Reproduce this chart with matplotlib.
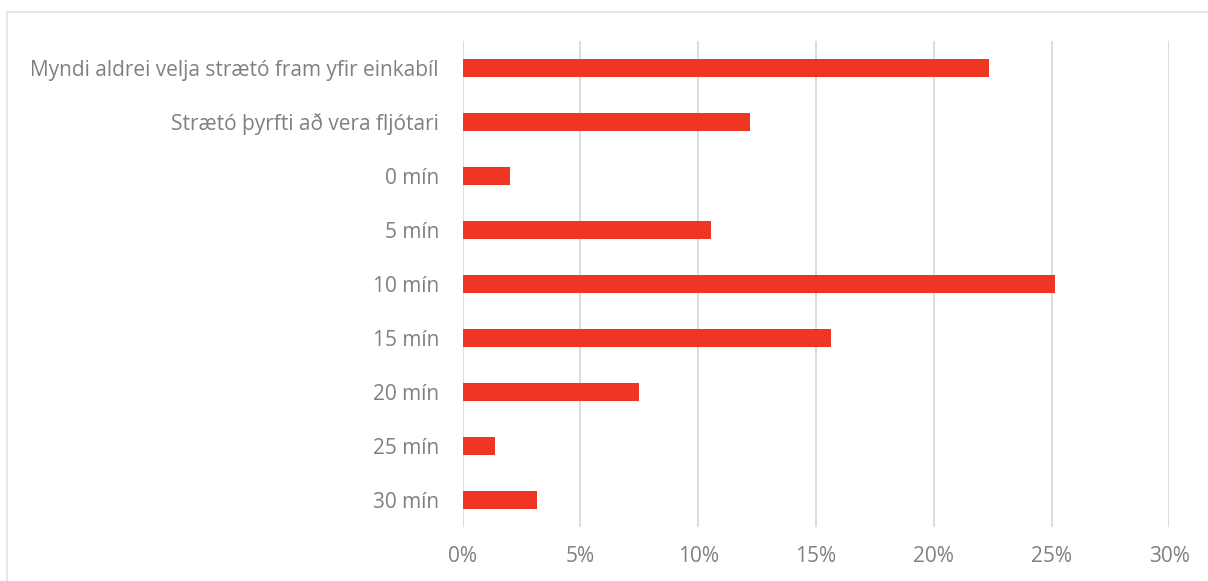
import matplotlib.pyplot as plt
from matplotlib.patches import Rectangle
from matplotlib.ticker import FuncFormatter, MultipleLocator

categories = [
    "Myndi aldrei velja strætó fram yfir einkabíl",
    "Strætó þyrfti að vera fljótari",
    "0 mín",
    "5 mín",
    "10 mín",
    "15 mín",
    "20 mín",
    "25 mín",
    "30 mín",
]
shares = [22.35, 12.21, 2.00, 10.54, 25.16, 15.65, 7.48, 1.39, 3.15]

bar_color = "#EF3524"
grid_color = "#D9D9D9"
text_color = "#7F7F85"

plt.rcParams["font.family"] = ["Open Sans", "DejaVu Sans"]

fig = plt.figure(figsize=(12.08, 5.81), dpi=100)
ax = fig.add_axes([0.3829, 0.0929, 0.5851, 0.8365])

# outer chart frame (only top and left edges are visible)
fig.patches.append(Rectangle((7 / 1208, -0.1), 1.2, (581 - 12) / 581 + 0.1,
                             transform=fig.transFigure, fill=False,
                             edgecolor="#E3E3E3", linewidth=1.2))

y = range(len(categories))
ax.barh(y, shares, height=0.35, color=bar_color, zorder=3)

ax.set_xlim(0, 30)
ax.set_ylim(len(categories) - 0.5, -0.5)
ax.xaxis.set_major_locator(MultipleLocator(5))
ax.xaxis.set_major_formatter(FuncFormatter(lambda v, p: f"{v:.0f}%"))
ax.grid(axis="x", color=grid_color, linewidth=1.3, zorder=0)
ax.set_yticks(list(y))
ax.set_yticklabels(categories)

for s in ax.spines.values():
    s.set_visible(False)
ax.tick_params(axis="both", length=0, labelsize=15, colors=text_color)
ax.tick_params(axis="y", pad=17)
ax.tick_params(axis="x", pad=14)

fig.savefig("out.png", dpi=100)
